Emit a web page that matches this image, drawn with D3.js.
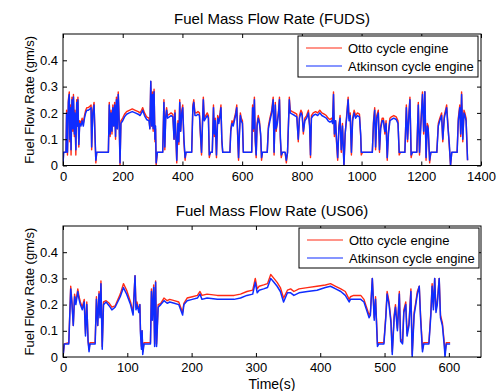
<!DOCTYPE html>
<html lang="en">
<head>
  <meta charset="UTF-8">
  <title>Fuel Mass Flow Rate</title>
  <style>
    body {
      margin: 0;
      background: #fff;
      font-family: 'Liberation Sans', Arial, sans-serif;
    }
    svg {
      display: block;
    }
  </style>
</head>
<body>

<svg width="497" height="391"></svg>

<script src="https://d3js.org/d3.v7.min.js"></script>
<script>
// ---- data ----
const seriesNames = ["Otto cycle engine", "Atkinson cycle engine"];
const yTicks = [0, 0.1, 0.2, 0.3, 0.4];
const fudsTicks = [0, 200, 400, 600, 800, 1000, 1200, 1400];
const us06Ticks = [0, 100, 200, 300, 400, 500, 600];

const fudsTime = [0,2,10,12,15,18,21,23,25,27,30,33,35,38,40,43,46,48,50,53,56,60,64,68,72,76,80,85,90,94,96,100,104,107,110,113,152,155,158,161,164,167,170,173,176,179,182,185,188,191,194,200,206,213,222,232,242,252,258,263,267,273,280,288,291,294,297,300,302,305,308,310,312,316,334,338,341,344,347,350,356,362,368,372,375,378,381,385,388,391,394,398,401,405,409,412,431,435,438,442,447,452,457,460,464,467,470,473,478,483,487,490,494,500,504,507,510,514,518,522,526,529,532,535,559,562,566,570,574,578,582,585,588,591,594,597,601,604,632,635,638,641,644,647,650,654,658,662,665,668,684,688,693,699,704,707,711,714,718,722,725,728,731,735,744,748,752,758,761,768,776,783,788,792,797,801,805,810,816,822,826,829,832,838,846,853,860,867,875,882,888,894,900,903,906,909,913,916,920,924,928,932,936,941,945,950,955,958,962,966,970,975,980,986,993,997,999,1003,1036,1040,1044,1047,1051,1056,1060,1064,1069,1073,1078,1082,1086,1090,1095,1100,1108,1116,1122,1126,1130,1145,1150,1154,1158,1162,1166,1170,1185,1190,1194,1198,1204,1208,1212,1216,1220,1223,1228,1232,1252,1257,1262,1268,1272,1277,1285,1289,1294,1298,1302,1320,1324,1329,1332,1335,1339,1343,1346,1350,1355];
const fudsAtkinson = [0,0.05,0.05,0.20,0.05,0.24,0.27,0.10,0.22,0.06,0.25,0.14,0.26,0.12,0.20,0.06,0.24,0.15,0.25,0.08,0.16,0.15,0.17,0.15,0.18,0.20,0.21,0.21,0.215,0.22,0.07,0.20,0.23,0.12,0.02,0.05,0.05,0.23,0.12,0.20,0.13,0.22,0.15,0.23,0.11,0.25,0.14,0.27,0.17,0.01,0.16,0.17,0.185,0.195,0.20,0.205,0.20,0.195,0.19,0.20,0.21,0.19,0.175,0.17,0.14,0.32,0.15,0.27,0.14,0.28,0.10,0.15,0.01,0.05,0.05,0.24,0.07,0.18,0.21,0.18,0.185,0.19,0.185,0.10,0.20,0.12,0.02,0.16,0.09,0.24,0.13,0.20,0.22,0.10,0.03,0.05,0.05,0.22,0.24,0.19,0.19,0.195,0.19,0.13,0.05,0.15,0.25,0.17,0.18,0.19,0.18,0.04,0.05,0.05,0.22,0.12,0.17,0.04,0.18,0.16,0.19,0.22,0.10,0.05,0.05,0.13,0.16,0.15,0.17,0.19,0.22,0.12,0.03,0.12,0.19,0.17,0.16,0.05,0.05,0.22,0.14,0.25,0.10,0.04,0.15,0.18,0.16,0.12,0.03,0.05,0.05,0.14,0.17,0.20,0.25,0.05,0.23,0.14,0.16,0.20,0.25,0.11,0.04,0.05,0.05,0.02,0.05,0.25,0.20,0.195,0.19,0.185,0.10,0.18,0.20,0.19,0.13,0.17,0.18,0.20,0.15,0.04,0.18,0.19,0.195,0.19,0.20,0.19,0.185,0.18,0.17,0.165,0.17,0.16,0.27,0.12,0.17,0.10,0.03,0.14,0.18,0.06,0.15,0.00,0.12,0.18,0.25,0.17,0.19,0.05,0.17,0.20,0.18,0.19,0.185,0.12,0.05,0.05,0.05,0.16,0.21,0.07,0.18,0.20,0.06,0.14,0.17,0.17,0.13,0.16,0.03,0.12,0.17,0.175,0.18,0.175,0.16,0.05,0.05,0.05,0.22,0.10,0.18,0.25,0.04,0.05,0.05,0.23,0.05,0.14,0.27,0.13,0.28,0.03,0.15,0.14,0.02,0.05,0.05,0.15,0.17,0.19,0.10,0.18,0.22,0.15,0.08,0.00,0.05,0.05,0.17,0.22,0.12,0.27,0.10,0.20,0.19,0.17,0.02];
const fudsOtto = [0,0.05,0.05,0.21,0.04,0.25,0.28,0.09,0.23,0.04,0.26,0.13,0.27,0.11,0.21,0.04,0.25,0.15,0.26,0.07,0.17,0.16,0.18,0.16,0.19,0.21,0.22,0.22,0.225,0.23,0.06,0.21,0.24,0.12,0.01,0.05,0.05,0.24,0.11,0.21,0.12,0.23,0.15,0.24,0.10,0.26,0.14,0.28,0.18,0.00,0.17,0.18,0.195,0.205,0.21,0.215,0.21,0.205,0.20,0.21,0.22,0.20,0.185,0.18,0.14,0.32,0.15,0.28,0.13,0.29,0.09,0.14,0.00,0.05,0.05,0.25,0.06,0.19,0.22,0.19,0.195,0.20,0.195,0.10,0.21,0.11,0.01,0.17,0.08,0.25,0.13,0.21,0.23,0.09,0.02,0.05,0.05,0.23,0.25,0.20,0.20,0.205,0.20,0.12,0.04,0.16,0.26,0.18,0.19,0.20,0.19,0.03,0.05,0.05,0.23,0.11,0.18,0.03,0.19,0.17,0.20,0.23,0.09,0.05,0.05,0.14,0.17,0.16,0.18,0.20,0.23,0.11,0.02,0.13,0.20,0.18,0.17,0.05,0.05,0.23,0.13,0.26,0.09,0.03,0.16,0.19,0.17,0.11,0.02,0.05,0.05,0.15,0.18,0.21,0.26,0.04,0.24,0.13,0.17,0.21,0.26,0.10,0.03,0.05,0.05,0.01,0.05,0.26,0.21,0.205,0.20,0.195,0.09,0.19,0.21,0.20,0.12,0.18,0.19,0.21,0.15,0.03,0.19,0.20,0.205,0.20,0.21,0.20,0.195,0.19,0.18,0.175,0.18,0.17,0.28,0.11,0.17,0.09,0.02,0.15,0.19,0.05,0.16,0.00,0.12,0.19,0.26,0.18,0.20,0.04,0.18,0.21,0.19,0.20,0.195,0.11,0.04,0.05,0.05,0.17,0.22,0.06,0.19,0.21,0.05,0.15,0.18,0.18,0.12,0.17,0.02,0.13,0.18,0.185,0.19,0.185,0.17,0.04,0.05,0.05,0.23,0.09,0.19,0.26,0.03,0.05,0.05,0.24,0.04,0.15,0.28,0.12,0.28,0.02,0.16,0.15,0.01,0.05,0.05,0.16,0.18,0.20,0.09,0.19,0.23,0.16,0.07,0.00,0.05,0.05,0.18,0.23,0.11,0.28,0.09,0.21,0.20,0.18,0.02];

const us06Time = [0,2,9,12,14,16,18,20,23,25,27,30,33,35,37,39,40.5,42,50,52,54,56,57.5,59,61,63,67,72,76,81,89,94,99,105,109,112,113.5,115,118,119.5,120.5,122,123,124,126,136,137.5,139,141,142.5,144,145.5,148,152,157,162,166,173,180,183,186,188,193,201,209,213,216,224,240,255,266,276,286,295,299,302,305,312,318,323,328,333,338,343,349,354,359,367,380,395,408,416,424,432,439,445,447,452,463,468,472,476,478,481,484,486,489,491,499,502,504,507,510,512,515,517,520,523,525,528,530,533,535,538,541,543,546,548,551,554,556,559,561,569,572,574,576,578,580,582,585,587,590,593,594,596,602];
const us06Atkinson = [0,0.05,0.05,0.26,0.20,0.12,0.23,0.20,0.25,0.22,0.20,0.18,0.21,0.08,0.20,0.06,0.02,0.05,0.05,0.22,0.12,0.24,0.15,0.28,0.03,0.20,0.21,0.195,0.18,0.19,0.23,0.265,0.24,0.20,0.16,0.31,0.18,0.20,0.17,0.20,0.09,0.03,0.10,0.01,0.05,0.05,0.25,0.14,0.265,0.04,0.285,0.04,0.19,0.20,0.215,0.205,0.21,0.205,0.20,0.18,0.16,0.20,0.215,0.22,0.225,0.24,0.22,0.225,0.22,0.22,0.22,0.225,0.235,0.24,0.285,0.245,0.255,0.26,0.265,0.30,0.285,0.27,0.25,0.21,0.245,0.245,0.235,0.245,0.25,0.255,0.265,0.27,0.26,0.25,0.235,0.21,0.22,0.22,0.22,0.21,0.18,0.15,0.16,0.30,0.14,0.22,0.04,0.05,0.05,0.15,0.24,0.20,0.13,0.01,0.15,0.19,0.10,0.24,0.06,0.05,0.17,0.20,0.08,0.12,0.25,0.00,0.16,0.19,0.24,0.27,0.15,0.02,0.05,0.05,0.16,0.27,0.18,0.30,0.17,0.20,0.30,0.15,0.12,0.04,0.00,0.05,0.05];
const us06Otto = [0,0.05,0.055,0.27,0.21,0.12,0.24,0.21,0.26,0.23,0.21,0.19,0.22,0.09,0.21,0.06,0.03,0.055,0.055,0.23,0.12,0.25,0.16,0.29,0.04,0.21,0.215,0.205,0.19,0.195,0.24,0.28,0.255,0.21,0.17,0.31,0.19,0.21,0.18,0.20,0.10,0.04,0.10,0.02,0.055,0.055,0.26,0.15,0.275,0.05,0.29,0.05,0.20,0.205,0.225,0.215,0.22,0.215,0.21,0.19,0.17,0.205,0.225,0.23,0.235,0.25,0.235,0.24,0.235,0.235,0.235,0.24,0.25,0.255,0.30,0.26,0.27,0.275,0.28,0.315,0.30,0.285,0.265,0.225,0.255,0.26,0.25,0.26,0.265,0.27,0.275,0.28,0.27,0.26,0.25,0.22,0.23,0.235,0.235,0.22,0.19,0.16,0.17,0.30,0.15,0.23,0.05,0.055,0.055,0.16,0.25,0.21,0.14,0.02,0.16,0.20,0.11,0.25,0.07,0.055,0.18,0.21,0.09,0.13,0.26,0.01,0.17,0.20,0.25,0.27,0.16,0.03,0.055,0.055,0.17,0.28,0.19,0.30,0.18,0.21,0.30,0.16,0.13,0.05,0.01,0.055,0.055];

const colors = ["#ff2a14", "#0f2cff"];

const svg = d3.select("svg");
const left = 63, right = 481;
const font = "'Liberation Sans', Arial, sans-serif";

const panels = [
  { title: "Fuel Mass Flow Rate (FUDS)", top: 34, bottom: 165.5, xMax: 1400, ticks: fudsTicks,
    time: fudsTime, series: [fudsOtto, fudsAtkinson], legend: { x: 298, y: 36, w: 180, h: 41 } },
  { title: "Fuel Mass Flow Rate (US06)", top: 226, bottom: 357, xMax: 650, ticks: us06Ticks,
    time: us06Time, series: [us06Otto, us06Atkinson], legend: { x: 299, y: 228, w: 180, h: 40 } }
];

panels.forEach((p, pi) => {
  const x = d3.scaleLinear().domain([0, p.xMax]).range([left, right]);
  const y = d3.scaleLinear().domain([0, 0.5]).range([p.bottom, p.top]);
  const g = svg.append("g");

  const clipId = "clip" + pi;
  g.append("clipPath").attr("id", clipId)
    .append("rect").attr("x", left).attr("y", p.top).attr("width", right - left).attr("height", p.bottom - p.top);

  // traces: Otto first, Atkinson drawn over it
  p.series.forEach((vals, si) => {
    const pts = p.time.map((t, i) => [t, vals[i]]);
    g.append("path")
      .datum(pts)
      .attr("clip-path", `url(#${clipId})`)
      .attr("fill", "none")
      .attr("stroke", colors[si])
      .attr("stroke-width", si === 0 ? 1.4 : 1.5)
      .attr("stroke-linejoin", "round")
      .attr("d", d3.line().x(d => x(d[0])).y(d => y(d[1])));
  });

  // axes: ticks inside, mirrored on top and right
  const tickLen = 4;
  const bottomAxis = d3.axisBottom(x).tickValues(p.ticks).tickSize(-tickLen).tickPadding(6).tickFormat(d3.format("d"));
  const topAxis = d3.axisTop(x).tickValues(p.ticks).tickSize(-tickLen).tickFormat("");
  const leftAxis = d3.axisLeft(y).tickValues(yTicks).tickSize(-tickLen).tickPadding(5).tickFormat(d => d === 0 ? "0" : d3.format(".1f")(d));
  const rightAxis = d3.axisRight(y).tickValues(yTicks).tickSize(-tickLen).tickFormat("");

  [[bottomAxis, `translate(0,${p.bottom})`], [topAxis, `translate(0,${p.top})`],
   [leftAxis, `translate(${left},0)`], [rightAxis, `translate(${right},0)`]].forEach(([ax, tr]) => {
    const a = g.append("g").attr("transform", tr).call(ax);
    a.select(".domain").remove();
    a.selectAll("line").attr("stroke", "#000");
    a.selectAll("text").attr("fill", "#000").attr("font-size", 13).attr("font-family", font);
  });

  g.append("rect")
    .attr("x", left).attr("y", p.top)
    .attr("width", right - left).attr("height", p.bottom - p.top)
    .attr("fill", "none").attr("stroke", "#000").attr("stroke-width", 1);

  g.append("text")
    .attr("x", (left + right) / 2).attr("y", p.top - 10)
    .attr("text-anchor", "middle").attr("font-size", 15)
    .text(p.title);

  g.append("text")
    .attr("transform", `translate(34,${(p.top + p.bottom) / 2}) rotate(-90)`)
    .attr("text-anchor", "middle").attr("font-size", 13)
    .text("Fuel Flow Rate (gm/s)");

  // legend
  const L = p.legend;
  const lg = g.append("g");
  lg.append("rect").attr("x", L.x).attr("y", L.y).attr("width", L.w).attr("height", L.h)
    .attr("fill", "#fff").attr("stroke", "#000");
  seriesNames.forEach((name, i) => {
    const cy = L.y + 12 + i * 18;
    lg.append("line").attr("x1", L.x + 8).attr("x2", L.x + 44).attr("y1", cy).attr("y2", cy)
      .attr("stroke", colors[i]).attr("stroke-width", 1.2);
    lg.append("text").attr("x", L.x + 50).attr("y", cy + 4.6)
      .attr("font-size", 13).text(name);
  });
});

svg.append("text")
  .attr("x", (left + right) / 2).attr("y", 389)
  .attr("text-anchor", "middle").attr("font-size", 14)
  .text("Time(s)");
</script>

</body>
</html>
